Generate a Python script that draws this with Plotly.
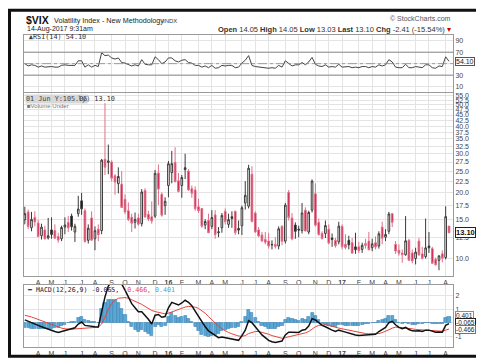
import math
import pandas as pd
import plotly.graph_objects as go

# ---------------- data (weekly) ----------------
weeks = pd.date_range("2015-03-09", periods=128, freq="W-MON")

opens = [15.0, 16.3, 13.8, 15.4, 14.5, 12.7, 13.5, 12.4, 13.5, 13.4,
         12.6, 12.3, 13.9, 14.6, 15.6, 13.2, 16.0, 18.3, 16.5, 12.1,
         15.3, 12.3, 13.6, 13.4, 28.3, 27.4, 27.5, 23.8, 21.9, 21.8,
         18.6, 16.5, 15.4, 14.6, 15.3, 14.4, 20.4, 15.9, 15.5, 15.6,
         24.5, 19.6, 17.4, 21.5, 24.6, 27.4, 22.6, 21.5, 25.9, 25.0,
         20.8, 20.5, 17.2, 16.9, 14.2, 14.9, 14.0, 15.8, 13.1, 13.8,
         16.4, 14.3, 15.5, 16.4, 13.7, 14.1, 17.9, 17.3, 24.2, 16.1,
         13.5, 12.8, 12.2, 12.0, 11.6, 11.6, 11.4, 14.0, 12.0, 20.0,
         15.3, 14.2, 13.6, 13.4, 16.6, 13.2, 16.6, 19.7, 14.6, 13.0,
         13.0, 13.6, 12.4, 12.1, 11.9, 14.0, 11.6, 12.1, 11.8, 11.3,
         11.3, 11.0, 11.7, 12.0, 11.2, 11.8, 11.4, 13.9, 12.5, 13.3,
         16.0, 11.6, 10.9, 10.6, 10.4, 12.1, 10.6, 10.0, 12.0, 10.5,
         10.2, 11.4, 11.1, 9.9, 9.8, 10.5, 10.1, 14.05]

highs = [17.2, 16.7, 16.3, 16.4, 15.0, 14.4, 14.1, 15.3, 15.4, 14.3,
         13.1, 14.1, 15.4, 15.6, 16.0, 14.4, 19.3, 19.9, 16.9, 14.3,
         16.4, 14.0, 14.3, 28.4, 51.0, 33.0, 28.0, 24.2, 26.0, 25.0,
         19.6, 18.0, 16.0, 16.2, 16.0, 20.7, 20.9, 16.5, 18.2, 25.3,
         26.8, 20.0, 19.0, 27.8, 30.9, 32.1, 24.5, 24.0, 30.0, 25.5,
         21.5, 21.3, 18.7, 17.0, 15.1, 16.0, 16.6, 16.6, 13.9, 16.1,
         16.9, 16.0, 16.4, 16.5, 14.9, 17.4, 22.5, 26.7, 26.3, 16.4,
         13.9, 13.2, 13.2, 13.1, 12.1, 12.5, 14.0, 14.2, 17.9, 20.5,
         16.1, 14.6, 14.1, 17.9, 17.1, 16.5, 22.9, 22.0, 15.2, 13.3,
         14.9, 14.3, 13.0, 12.4, 14.7, 14.3, 12.9, 12.7, 12.4, 13.1,
         11.9, 11.8, 12.3, 13.2, 12.3, 12.6, 13.3, 14.7, 13.6, 16.3,
         16.1, 12.0, 11.6, 11.0, 15.6, 12.3, 11.0, 11.2, 12.4, 11.3,
         15.2, 13.2, 11.3, 10.1, 10.3, 10.9, 17.28, 14.05]

lows = [14.3, 13.6, 13.3, 14.0, 12.5, 12.2, 12.2, 12.2, 12.3, 12.3,
        11.8, 12.0, 12.9, 13.2, 13.4, 11.9, 15.5, 15.8, 11.8, 11.7,
        12.1, 10.9, 12.0, 12.9, 24.0, 24.2, 22.4, 19.5, 19.8, 17.0,
        15.9, 14.8, 13.2, 13.7, 14.1, 14.0, 15.3, 14.8, 14.4, 15.3,
        17.5, 15.5, 15.8, 19.0, 22.0, 22.3, 20.0, 18.9, 23.0, 20.3,
        18.9, 16.5, 16.1, 13.8, 13.6, 13.1, 13.6, 12.3, 12.5, 13.1,
        14.3, 13.8, 13.8, 12.8, 12.9, 12.8, 16.7, 16.9, 14.6, 13.1,
        12.5, 11.9, 11.6, 11.1, 11.0, 11.1, 11.0, 11.5, 11.7, 14.9,
        12.1, 12.3, 12.5, 13.0, 13.3, 12.9, 16.2, 14.0, 12.7, 12.2,
        12.4, 11.6, 11.3, 11.2, 11.6, 11.0, 11.0, 11.0, 10.6, 10.5,
        10.6, 10.6, 11.1, 10.9, 10.8, 11.0, 11.1, 11.6, 12.0, 12.9,
        13.9, 10.5, 10.3, 9.56, 10.3, 9.8, 9.5, 9.4, 10.3, 9.9,
        10.0, 10.6, 9.5, 9.3, 8.84, 9.6, 9.9, 13.03]

closes = [16.00, 13.97, 15.07, 14.67, 12.58, 13.89, 12.29, 12.70, 12.86, 12.38,
          12.13, 13.84, 14.21, 13.78, 13.96, 14.02, 16.79, 16.83, 11.95, 13.74,
          12.12, 13.39, 12.83, 28.03, 26.05, 27.80, 23.20, 22.28, 23.62, 17.08,
          16.30, 15.05, 14.46, 15.07, 14.33, 20.08, 15.47, 15.12, 14.81, 24.39,
          20.70, 15.74, 18.21, 27.01, 27.02, 22.34, 20.20, 23.38, 25.40, 20.53,
          19.81, 16.86, 16.50, 14.02, 14.74, 13.10, 15.36, 12.84, 13.22, 15.70,
          14.72, 15.04, 15.20, 13.12, 13.47, 17.03, 19.41, 25.76, 14.77, 13.20,
          12.67, 12.02, 11.87, 11.39, 11.55, 11.34, 13.65, 11.98, 17.50, 15.37,
          12.29, 13.29, 13.48, 16.12, 13.34, 16.19, 22.51, 14.17, 12.85, 12.34,
          14.12, 11.75, 12.20, 11.44, 14.04, 11.32, 11.23, 11.54, 10.58, 10.97,
          10.85, 11.49, 11.47, 10.96, 11.66, 11.28, 12.96, 12.37, 12.87, 15.96,
          14.63, 10.82, 10.57, 10.40, 12.04, 9.81, 9.75, 10.70, 10.38, 10.02,
          11.18, 11.19, 9.51, 9.36, 10.29, 10.03, 15.51, 13.10]

rsi = [50, 46, 48, 47, 44, 46, 44, 45, 45, 44,
       44, 47, 48, 47, 47, 47, 55, 55, 44, 48,
       44, 47, 45, 69, 64, 65, 60, 58, 60, 52,
       51, 48, 46, 48, 46, 57, 49, 48, 48, 62,
       57, 50, 53, 60, 60, 55, 53, 56, 57, 52,
       51, 47, 47, 44, 46, 43, 47, 42, 43, 47,
       46, 47, 47, 43, 44, 51, 56, 64, 47, 45,
       44, 43, 43, 42, 43, 42, 47, 44, 55, 50,
       46, 48, 48, 52, 48, 53, 61, 49, 46, 45,
       48, 44, 45, 44, 49, 44, 44, 45, 43, 44,
       43, 45, 45, 43, 45, 44, 48, 46, 48, 57,
       53, 44, 43, 43, 49, 43, 43, 45, 44, 43,
       48, 48, 43, 42, 46, 45, 62, 54.1]

macd = [0.21, 0.12, 0.0, -0.1, -0.2, -0.3, -0.4, -0.5, -0.58, -0.65,
        -0.72, -0.65, -0.58, -0.52, -0.45, -0.38, -0.1, 0.05, -0.2, -0.25,
        -0.3, -0.3, -0.32, 0.9, 1.9, 2.7, 3.1, 3.3, 3.3, 2.9,
        2.4, 1.9, 1.4, 1.1, 0.8, 0.8, 0.55, 0.25, -0.1, 0.55,
        0.6, 0.4, 0.45, 1.1, 1.5, 1.4, 1.3, 1.45, 1.65, 1.5,
        1.25, 0.85, 0.45, 0.0, -0.3, -0.6, -0.75, -0.95, -1.1, -1.05,
        -1.1, -1.15, -1.2, -1.3, -1.3, -0.95, -0.55, 0.15, 0.0, -0.3,
        -0.6, -0.9, -1.1, -1.3, -1.4, -1.45, -1.4, -1.35, -0.9, -0.7,
        -0.7, -0.72, -0.72, -0.55, -0.5, -0.25, 0.3, 0.2, 0.0, -0.2,
        -0.3, -0.45, -0.55, -0.65, -0.55, -0.62, -0.7, -0.75, -0.85, -0.9,
        -0.95, -0.93, -0.9, -0.9, -0.85, -0.85, -0.65, -0.5, -0.35, 0.0,
        0.1, -0.15, -0.35, -0.45, -0.35, -0.5, -0.6, -0.62, -0.6, -0.65,
        -0.55, -0.55, -0.65, -0.7, -0.68, -0.7, -0.2, -0.065]

signal = [0.55, 0.5, 0.42, 0.33, 0.24, 0.15, 0.05, -0.05, -0.15, -0.25,
          -0.33, -0.4, -0.45, -0.48, -0.48, -0.46, -0.45, -0.42, -0.4, -0.38,
          -0.36, -0.35, -0.33, -0.1, 0.4, 1.0, 1.4, 1.65, 1.8, 1.85,
          1.85, 1.8, 1.7, 1.6, 1.45, 1.35, 1.2, 1.05, 0.9, 0.82,
          0.75, 0.7, 0.65, 0.7, 0.8, 0.9, 0.97, 1.05, 1.15, 1.2,
          1.2, 1.15, 1.05, 0.9, 0.7, 0.45, 0.2, -0.05, -0.25, -0.45,
          -0.6, -0.72, -0.82, -0.9, -0.98, -1.0, -0.95, -0.8, -0.7, -0.65,
          -0.65, -0.7, -0.78, -0.85, -0.95, -1.03, -1.1, -1.15, -1.1, -1.05,
          -0.98, -0.92, -0.88, -0.82, -0.75, -0.65, -0.45, -0.3, -0.2, -0.15,
          -0.15, -0.2, -0.28, -0.35, -0.4, -0.45, -0.5, -0.55, -0.62, -0.68,
          -0.72, -0.77, -0.8, -0.82, -0.83, -0.83, -0.8, -0.73, -0.65, -0.52,
          -0.4, -0.33, -0.34, -0.36, -0.37, -0.4, -0.45, -0.5, -0.52, -0.55,
          -0.55, -0.55, -0.57, -0.6, -0.61, -0.63, -0.55, -0.466]

month_labels = ["A", "M", "J", "J", "A", "S", "O", "N", "D", "<b>16</b>", "F", "M",
                "A", "M", "J", "J", "A", "S", "O", "N", "D", "<b>17</b>", "F", "M",
                "A", "M", "J", "J", "A"]
price_ticks = [10.0, 12.5, 15.0, 17.5, 20.0, 22.5, 25.0, 27.5, 30.0, 32.5, 35.0,
               37.5, 40.0, 42.5, 45.0, 47.5, 50.0, 52.5, 55.0]
rsi_ticks = [10, 30, 50, 70, 90]
rsi_labels = ["10", "30", "", "70", "90"]
macd_ticks = [-1, 0, 1, 2]
macd_labels = ["-1", "", "1", "2"]

# ---------------- helpers ----------------
L, R, T, B = 16, 39, 27, 13
W, H = 484, 361
PW, PH = W - L - R, H - T - B


def px(x):
    return (x - L) / PW


def py(y):
    return (H - B - y) / PH


hist = [m - s for m, s in zip(macd, signal)]

s = pd.Series(weeks)
firsts = s.groupby([s.dt.year, s.dt.month]).first()
tickdates = [d for d in firsts if d >= pd.Timestamp("2015-04-01")]

# candle groups (StockCharts colouring)
groups = {"up_black": [], "down_black": [], "down_red": [], "up_red": []}
for i in range(len(closes)):
    prev = closes[i - 1] if i > 0 else opens[i]
    up = closes[i] >= opens[i]
    higher = closes[i] >= prev
    if up and higher:
        groups["up_black"].append(i)
    elif (not up) and higher:
        groups["down_black"].append(i)
    elif (not up) and (not higher):
        groups["down_red"].append(i)
    else:
        groups["up_red"].append(i)

styles = {
    "up_black": dict(fill="white", line="#3a3a3a"),
    "down_black": dict(fill="#111111", line="#3a3a3a"),
    "down_red": dict(fill="#cc1040", line="#e07088"),
    "up_red": dict(fill="white", line="#cc1040"),
}

fig = go.Figure()
for g, idx in groups.items():
    if not idx:
        continue
    st = styles[g]
    side = dict(line=dict(color=st["line"], width=1), fillcolor=st["fill"])
    fig.add_trace(go.Candlestick(
        x=[weeks[i] for i in idx],
        open=[opens[i] for i in idx], high=[highs[i] for i in idx],
        low=[lows[i] for i in idx], close=[closes[i] for i in idx],
        increasing=side, decreasing=side, whiskerwidth=0,
        xaxis="x", yaxis="y", hoverinfo="skip", showlegend=False))

fig.add_trace(go.Scatter(x=weeks, y=rsi, mode="lines",
                         line=dict(color="#444444", width=1),
                         xaxis="x2", yaxis="y2", hoverinfo="skip"))

fig.add_trace(go.Bar(x=weeks, y=hist, marker=dict(color="#5aa7d6", line=dict(color="#2f78ad", width=0.5)),
                     width=7 * 24 * 3600 * 1000 * 0.92, xaxis="x3", yaxis="y3", hoverinfo="skip"))
fig.add_trace(go.Scatter(x=weeks, y=signal, mode="lines", line=dict(color="#e8433b", width=1),
                         xaxis="x3", yaxis="y3", hoverinfo="skip"))
fig.add_trace(go.Scatter(x=weeks, y=macd, mode="lines", line=dict(color="#111111", width=1.5),
                         xaxis="x3", yaxis="y3", hoverinfo="skip"))

xr = ["2015-03-07 07:00", "2017-08-22 09:00"]
grid = "#e4e4e4"
border = "#9a9a9a"
tickfont = dict(size=7, color="#444", family="Liberation Sans, Arial, sans-serif")

xcommon = dict(type="date", range=xr, tickvals=tickdates, ticktext=month_labels,
               showgrid=True, gridcolor=grid, gridwidth=1, zeroline=False,
               showline=True, linecolor=border, linewidth=1, mirror=True, ticks="",
               tickfont=tickfont, tickangle=0, ticklabelstandoff=0)

fig.update_layout(
    width=W, height=H, margin=dict(l=L, r=R, t=T, b=B),
    paper_bgcolor="white", plot_bgcolor="white", showlegend=False,
    font=dict(family="Liberation Sans, Arial, sans-serif", size=8, color="#333"),
    bargap=0,
    xaxis=dict(domain=[0, 1], anchor="y", rangeslider=dict(visible=False), **xcommon),
    xaxis2=dict(domain=[0, 1], anchor="y2", matches="x", showticklabels=False,
                **{k: v for k, v in xcommon.items() if k not in ("ticktext",)}),
    xaxis3=dict(domain=[0, 1], anchor="y3", matches="x", **xcommon),
    yaxis=dict(domain=[py(275), py(87)], type="log",
               range=[math.log10(8.32), math.log10(56.5)], side="right",
               tickvals=price_ticks, ticktext=[f"{v:.1f}" for v in price_ticks],
               showgrid=True, gridcolor=grid, zeroline=False, showline=True,
               linecolor=border, mirror=True, ticks="",
               tickfont=dict(size=7, color="#444", family="Liberation Sans, Arial, sans-serif")),
    yaxis2=dict(domain=[py(86), 1], range=[0, 100], side="right",
                tickvals=rsi_ticks, ticktext=rsi_labels, showgrid=True, gridcolor=grid,
                zeroline=False, showline=True, linecolor=border, mirror=True, ticks="",
                tickfont=tickfont),
    yaxis3=dict(domain=[0, py(284)], range=[-1.79, 2.79], side="right",
                tickvals=macd_ticks, ticktext=macd_labels, showgrid=True, gridcolor=grid,
                zeroline=False, showline=True, linecolor=border, mirror=True, ticks="",
                tickfont=tickfont),
)

shapes = [
    dict(type="line", xref="paper", x0=0, x1=1, yref="y2", y0=70, y1=70,
         line=dict(color="#8a8a8a", width=1)),
    dict(type="line", xref="paper", x0=0, x1=1, yref="y2", y0=30, y1=30,
         line=dict(color="#8a8a8a", width=1)),
    dict(type="line", xref="paper", x0=0, x1=1, yref="y2", y0=50, y1=50,
         line=dict(color="#8a8a8a", width=0.8, dash="dashdot")),
    dict(type="rect", xref="paper", yref="paper", x0=px(1.5), x1=px(473.5),
         y0=py(357.5), y1=py(1.5), line=dict(color="#111", width=3)),
]
fig.update_layout(shapes=shapes)

mono = "DejaVu Sans Mono, monospace"
ann = [
    dict(x=px(16), y=py(12), text="<b>$VIX</b>", font=dict(size=10.5, color="#111")),
    dict(x=px(44), y=py(12.5), text="Volatility Index - New Methodology",
         font=dict(size=7.2, color="#222")),
    dict(x=px(153), y=py(12.5), text="INDX", font=dict(size=6, color="#333")),
    dict(x=px(17), y=py(21), text="14-Aug-2017 9:31am", font=dict(size=7, color="#222")),
    dict(x=px(445), y=py(21), xanchor="right",
         text="<b>Open</b> 14.05 <b>High</b> 14.05 <b>Low</b> 13.03 <b>Last</b> 13.10 "
              "<b>Chg</b> -2.41 (-15.54%) <span style='color:#cc0000'>▾</span>",
         font=dict(size=7.5, color="#333")),
    dict(x=px(445), y=py(10), xanchor="right", text="© StockCharts.com",
         font=dict(size=7, color="#555")),
    dict(x=px(18), y=py(29.5), text="<b>⩓</b>RSI(14) 54.10", font=dict(size=6.8, color="#333", family=mono)),
    dict(x=px(17), y=py(93), text="01 Jun Y:105.05", bgcolor="#d8d8d8", borderpad=0,
         font=dict(size=6.8, color="#444", family=mono)),
    dict(x=px(68), y=py(93), text="ly) 13.10", font=dict(size=6.8, color="#333", family=mono)),
    dict(x=px(17), y=py(100), text="■Volume Under", font=dict(size=6, color="#777")),
    dict(x=px(17), y=py(289),
         text="━ MACD(12,26,9) -0.065, <span style='color:#e8433b'>-0.466,</span> "
              "<span style='color:#4f9fd0'>0.401</span>",
         font=dict(size=6.6, color="#222", family=mono)),
]
for a in ann:
    a.setdefault("xref", "paper")
    a.setdefault("yref", "paper")
    a.setdefault("xanchor", "left")
    a.setdefault("yanchor", "middle")
    a["showarrow"] = False

box_labels = [
    dict(y=54.1, yref="y2", text="54.10", bordercolor="#555", font=dict(size=7, color="#222")),
    dict(y=math.log10(13.10), yref="y", text="<b>13.10</b>", bordercolor="#222",
         font=dict(size=7.5, color="#111")),
    dict(y=0.5, yref="y3", text="0.401", bordercolor="#4f9fd0", font=dict(size=6.5, color="#222")),
    dict(y=-0.02, yref="y3", text="-0.065", bordercolor="#222", font=dict(size=6.5, color="#222")),
    dict(y=-0.52, yref="y3", text="-0.466", bordercolor="#e8433b", font=dict(size=6.5, color="#222")),
]
for b in box_labels:
    b.update(dict(xref="paper", x=1.0, xanchor="left", yanchor="middle", xshift=2,
                  showarrow=False, bgcolor="white", borderwidth=1, borderpad=0))
    ann.append(b)

fig.update_layout(annotations=ann)
fig.write_html("out.html")
